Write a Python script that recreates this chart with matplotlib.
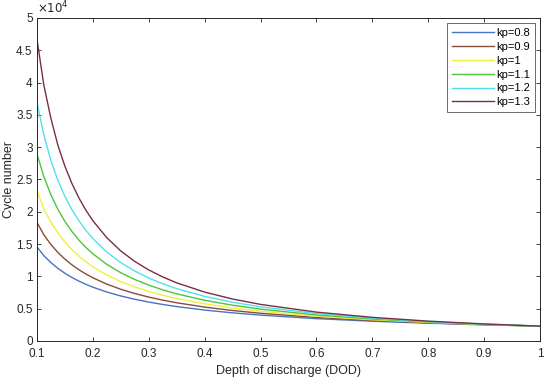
import matplotlib
matplotlib.use("Agg")
import matplotlib.pyplot as plt

plt.rcParams['font.family'] = ['Liberation Sans', 'DejaVu Sans']

dod = [0.1, 0.1125, 0.125, 0.1375, 0.15, 0.1625, 0.175, 0.1875, 0.2, 0.225, 0.25,
       0.275, 0.3, 0.325, 0.35, 0.4, 0.45, 0.5, 0.6, 0.7, 0.8, 0.9, 1.0]
n_kp08 = [14600, 13207, 12140, 11248, 10490, 9841, 9275, 8777, 8335, 7585, 6972,
          6460, 6026, 5652, 5327, 4787, 4357, 4005, 3461, 3059, 2749, 2502, 2300]
n_kp09 = [18400, 16432, 14945, 13717, 12682, 11802, 11040, 10376, 9791, 8805, 8010,
          7351, 6797, 6324, 5917, 5247, 4719, 4292, 3643, 3171, 2812, 2529, 2300]
n_kp10 = [23300, 20444, 18400, 16727, 15333, 14154, 13143, 12267, 11500, 10222, 9200,
          8364, 7667, 7077, 6571, 5750, 5111, 4600, 3833, 3286, 2875, 2556, 2300]
n_kp11 = [29000, 25437, 22653, 20398, 18536, 16974, 15647, 14502, 13508, 11866, 10569,
          9516, 8648, 7919, 7299, 6302, 5536, 4930, 4034, 3405, 2940, 2583, 2300]
n_kp12 = [37000, 31900, 27950, 24875, 22409, 20357, 18625, 17144, 15868, 13775, 12140,
          10827, 9754, 8861, 8106, 6906, 5996, 5284, 4246, 3529, 3006, 2610, 2300]
n_kp13 = [46800, 39600, 34500, 30334, 27089, 24413, 22172, 20269, 18637, 15992, 13945,
          12320, 11002, 9915, 9004, 7569, 6495, 5663, 4468, 3657, 3074, 2638, 2300]

labels = ['kp=0.8', 'kp=0.9', 'kp=1', 'kp=1.1', 'kp=1.2', 'kp=1.3']
series = [n_kp08, n_kp09, n_kp10, n_kp11, n_kp12, n_kp13]
colors = ['#4a72c4', '#8a4a3c', '#f2ee40', '#4cc43c', '#50e0f0', '#7a2e44']

xticks = [0.1, 0.2, 0.3, 0.4, 0.5, 0.6, 0.7, 0.8, 0.9, 1.0]
xticklabels = ['0.1', '0.2', '0.3', '0.4', '0.5', '0.6', '0.7', '0.8', '0.9', '1']
yticks = [0, 5000, 10000, 15000, 20000, 25000, 30000, 35000, 40000, 45000, 50000]
yticklabels = ['0', '0.5', '1', '1.5', '2', '2.5', '3', '3.5', '4', '4.5', '5']

fig = plt.figure(figsize=(5.5, 3.81), dpi=100)
ax = fig.add_axes([0.067, 0.105, 0.915, 0.848])

for s, lab, c in zip(series, labels, colors):
    ax.plot(dod, s, color=c, lw=1.0, label=lab)

ax.set_xlim(0.1, 1.0)
ax.set_ylim(0, 50000)
ax.set_xticks(xticks)
ax.set_xticklabels(xticklabels)
ax.set_yticks(yticks)
ax.set_yticklabels(yticklabels)

edge = '#262626'
for sp in ax.spines.values():
    sp.set_color(edge)
    sp.set_linewidth(0.7)
ax.tick_params(direction='in', top=True, right=True, length=3, width=0.6,
               colors=edge, labelsize=8.5, labelcolor='#262626')
ax.tick_params(axis='x', pad=5)
ax.tick_params(axis='y', pad=3)

ax.set_xlabel('Depth of discharge (DOD)', fontsize=9, color='#262626', labelpad=4)
ax.set_ylabel('Cycle number', fontsize=9, color='#262626')
ax.yaxis.set_label_coords(-0.044, 0.5)
ax.text(0.0, 1.005, r'$\times 10^{4}$', transform=ax.transAxes, fontsize=8.5,
        color='#262626', ha='left', va='bottom')

leg = ax.legend(loc='upper right', fontsize=8, frameon=True, fancybox=False,
                handlelength=3.8, handletextpad=0.2, labelspacing=0.35,
                borderaxespad=0.5, borderpad=0.4)
leg.get_frame().set_edgecolor(edge)
leg.get_frame().set_linewidth(0.6)

fig.savefig('out.png', dpi=100)
